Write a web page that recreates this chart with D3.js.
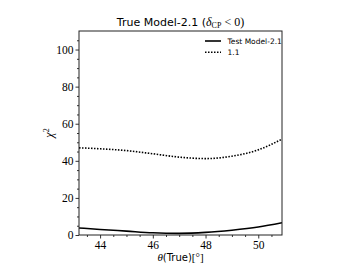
<!DOCTYPE html>
<html><head><meta charset="utf-8">
<script src="https://cdn.jsdelivr.net/npm/d3@7"></script>
<style>body{margin:0;background:#fff}svg{display:block}</style>
</head><body>
<svg id="c" width="352" height="264"></svg>
<script>
const theta = [43.2, 44, 45, 46, 47, 48, 49, 50, 50.9];
const model21 = [3.8, 3.0, 2.1, 1.2, 0.9, 1.4, 2.6, 4.3, 6.6];
const model11 = [47.0, 46.5, 45.5, 43.8, 42.0, 41.2, 42.5, 45.9, 51.7];
const xTicks = [44, 46, 48, 50];
const yTicks = [0, 20, 40, 60, 80, 100];
const legendLabels = ["Test Model-2.1", "1.1"];

const svg = d3.select("#c");
const L = 79, R = 282, T = 31, B = 235;
const x = d3.scaleLinear().domain([43.2, 50.9]).range([L, R]);
const y = d3.scaleLinear().domain([0, 110]).range([B, T]);
const serif = "'Liberation Serif','DejaVu Serif',serif";
const sans = "'DejaVu Sans','Liberation Sans',sans-serif";

svg.append("clipPath").attr("id","pc").append("rect")
  .attr("x",L).attr("y",T).attr("width",R-L).attr("height",B-T);

const line = d3.line().x(d=>x(d[0])).y(d=>y(d[1])).curve(d3.curveMonotoneX);
const g = svg.append("g").attr("clip-path","url(#pc)");
g.append("path").datum(theta.map((t,i)=>[t,model21[i]]))
  .attr("d",line).attr("fill","none").attr("stroke","#000").attr("stroke-width",1.6);
g.append("path").datum(theta.map((t,i)=>[t,model11[i]]))
  .attr("d",line).attr("fill","none").attr("stroke","#000").attr("stroke-width",1.6)
  .attr("stroke-dasharray","1.5,1.5");

const xAxis = d3.axisBottom(x).tickValues(xTicks).tickSize(3.5).tickPadding(2).tickFormat(d3.format("d"));
const xMinor = d3.axisBottom(x).tickValues(d3.range(43.5, 50.91, 0.5).filter(v=>v%2!==0)).tickSize(2).tickFormat("");
const yAxis = d3.axisLeft(y).tickValues(yTicks).tickSize(3.5).tickPadding(2).tickFormat(d3.format("d"));
const yMinor = d3.axisLeft(y).tickValues(d3.range(5, 110, 5).filter(v=>v%20!==0)).tickSize(2).tickFormat("");

function style(sel){
  sel.select(".domain").remove();
  sel.selectAll("line").attr("stroke","#000").attr("stroke-width",0.8);
  sel.selectAll("text").attr("font-family",serif).attr("font-size",11.5).attr("fill","#000");
}
svg.append("g").attr("transform",`translate(0,${B})`).call(xAxis).call(style);
svg.append("g").attr("transform",`translate(0,${B})`).call(xMinor).call(style);
svg.append("g").attr("transform",`translate(${L},0)`).call(yAxis).call(style);
svg.append("g").attr("transform",`translate(${L},0)`).call(yMinor).call(style);

svg.append("rect").attr("x",L).attr("y",T).attr("width",R-L).attr("height",B-T)
  .attr("fill","none").attr("stroke","#222").attr("stroke-width",1);

const title = svg.append("text").attr("x",(L+R)/2).attr("y",26).attr("text-anchor","middle")
  .attr("font-family",sans).attr("font-size",11).attr("fill","#000");
title.append("tspan").text("True Model-2.1 (");
title.append("tspan").attr("font-family",serif).attr("font-style","italic").attr("font-size",12).text("δ");
title.append("tspan").attr("font-family",serif).attr("font-size",8).attr("dy",2).text("CP");
title.append("tspan").attr("font-family",serif).attr("font-size",12).attr("dy",-2).text(" < 0)");

const xl = svg.append("text").attr("x",(L+R)/2).attr("y",261).attr("text-anchor","middle")
  .attr("font-family",sans).attr("font-size",10).attr("fill","#000");
xl.append("tspan").attr("font-family",serif).attr("font-style","italic").attr("font-size",11).text("θ");
xl.append("tspan").text("(True)");
xl.append("tspan").attr("font-family",serif).attr("font-size",11).text("[°]");

const yl = svg.append("text").attr("transform",`translate(53,${(T+B)/2}) rotate(-90)`)
  .attr("text-anchor","middle").attr("font-family",serif).attr("font-size",12).attr("fill","#000");
yl.append("tspan").attr("font-style","italic").text("χ");
yl.append("tspan").attr("font-size",8).attr("dy",-4).text("2");

const leg = svg.append("g");
legendLabels.forEach((lab,i)=>{
  const yy = 41 + i*11.3;
  leg.append("line").attr("x1",205).attr("x2",221).attr("y1",yy).attr("y2",yy)
    .attr("stroke","#000").attr("stroke-width",1.6)
    .attr("stroke-dasharray", i===1 ? "1.5,1.5" : null);
  leg.append("text").attr("x",227.5).attr("y",yy+3).attr("font-family",sans)
    .attr("font-size",7.5).attr("fill","#000").text(lab);
});
</script>
</body></html>
